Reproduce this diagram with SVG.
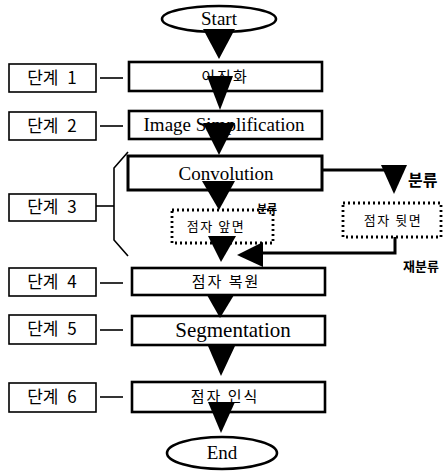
<svg xmlns="http://www.w3.org/2000/svg" width="446" height="473" viewBox="0 0 446 473">
  <style>
    .step { fill: #fff; stroke: #000; stroke-width: 1.6; }
    .proc { fill: #fff; stroke: #000; stroke-width: 2.6; }
    .term { fill: #fff; stroke: #000; stroke-width: 2.6; }
    .dot  { fill: #fff; stroke: #000; stroke-width: 2.8; stroke-dasharray: 2 3; }
    .wire { fill: none; stroke: #000; stroke-width: 1.6; }
    .thick { fill: none; stroke: #000; stroke-width: 3; }
    .head { fill: #000; }
    .kr { font-family: "Noto Sans CJK KR", "Noto Sans", sans-serif; fill: #000; }
    .en { font-family: "Liberation Serif", "DejaVu Serif", serif; fill: #000; }
    .lbl { font-size: 17px; text-anchor: middle; word-spacing: 5px; }
    .in { font-size: 15px; text-anchor: middle; letter-spacing: 2px; }
    .sm { font-size: 13px; text-anchor: middle; letter-spacing: 1.5px; }
    .big { font-size: 19px; text-anchor: middle; }
    .tag { font-weight: bold; }
  </style>

  <!-- step labels on the left -->
  <g id="step1"><rect class="step" x="9" y="64" width="87" height="28"/><text class="kr lbl" x="52" y="84">단계 1</text></g>
  <g id="step2"><rect class="step" x="9" y="112" width="87" height="28"/><text class="kr lbl" x="52" y="132">단계 2</text></g>
  <g id="step3"><rect class="step" x="9" y="194" width="87" height="27"/><text class="kr lbl" x="52" y="213">단계 3</text></g>
  <g id="step4"><rect class="step" x="9" y="268" width="87" height="28"/><text class="kr lbl" x="52" y="288">단계 4</text></g>
  <g id="step5"><rect class="step" x="9" y="315" width="87" height="29"/><text class="kr lbl" x="52" y="335">단계 5</text></g>
  <g id="step6"><rect class="step" x="9" y="383" width="87" height="29"/><text class="kr lbl" x="52" y="403">단계 6</text></g>

  <!-- terminals -->
  <g id="start"><ellipse class="term" cx="219" cy="19" rx="57" ry="13"/><text class="en big" x="219" y="25">Start</text></g>
  <g id="end"><ellipse class="term" cx="222" cy="453" rx="55" ry="16"/><text class="en big" x="222" y="459">End</text></g>

  <!-- process boxes -->
  <g id="binarize"><rect class="proc" x="129" y="62" width="193" height="29"/><text class="kr in" x="225" y="82">이진화</text></g>
  <g id="simplify"><rect class="proc" x="129" y="111" width="193" height="28"/><text class="en big" x="224" y="131">Image Simplification</text></g>
  <g id="convolution"><rect class="proc" x="128" y="156" width="194" height="34" style="stroke-width:3"/><text class="en big" x="226" y="180">Convolution</text></g>
  <g id="front"><rect class="dot" x="172" y="210" width="101" height="33"/><text class="kr sm" x="216" y="231">점자 앞면</text></g>
  <g id="back"><rect class="dot" x="343" y="203" width="98" height="34"/><text class="kr sm" x="393" y="225">점자 뒷면</text></g>
  <g id="restore"><rect class="proc" x="132" y="268" width="193" height="27"/><text class="kr in" x="226" y="287">점자 복원</text></g>
  <g id="segment"><rect class="proc" x="132" y="316" width="193" height="29"/><text class="en big" x="233" y="337" style="font-size:21px">Segmentation</text></g>
  <g id="recognize"><rect class="proc" x="132" y="382" width="193" height="30"/><text class="kr in" x="225" y="402">점자 인식</text></g>

  <!-- connectors -->
  <g id="connectors">
    <!-- ticks from step labels -->
    <line class="wire" x1="100" y1="78" x2="123" y2="78"/>
    <line class="wire" x1="100" y1="126" x2="123" y2="126"/>
    <line class="wire" x1="96" y1="206" x2="114" y2="206"/>
    <line class="wire" x1="100" y1="283" x2="123" y2="283"/>
    <line class="wire" x1="100" y1="330" x2="123" y2="330"/>
    <line class="wire" x1="100" y1="397" x2="123" y2="397"/>
    <!-- bracket grouping step 3 -->
    <polyline class="wire" points="128,152 114,168 114,240 128,256"/>

    <!-- main flow arrowheads -->
    <polygon class="head" points="203,29 235,29 219,59"/>
    <polygon class="head" points="207,76 233,76 220,110"/>
    <polygon class="head" points="203,123 235,123 219,155"/>
    <polygon class="head" points="202,181 235,181 219,210"/>
    <polygon class="head" points="208,236 236,236 221,262"/>
    <polygon class="head" points="207,295 234,295 220,318"/>
    <polygon class="head" points="208,346 235,346 221,376"/>
    <polygon class="head" points="208,402 235,402 221,433"/>

    <!-- branch to the back side -->
    <polyline class="thick" points="322,170 388,170"/>
    <polygon class="head" points="381,165 407,165 394,194"/>
    <text class="kr tag" x="408" y="186" style="font-size:16px">분류</text>
    <text class="kr tag" x="257" y="213" style="font-size:11px">분류</text>

    <!-- re-classification back into the flow -->
    <polyline class="thick" points="395,237 395,253 262,253"/>
    <polygon class="head" points="237,255 263,242 263,267"/>
    <text class="kr tag" x="403" y="271" style="font-size:13px">재분류</text>
  </g>
</svg>
